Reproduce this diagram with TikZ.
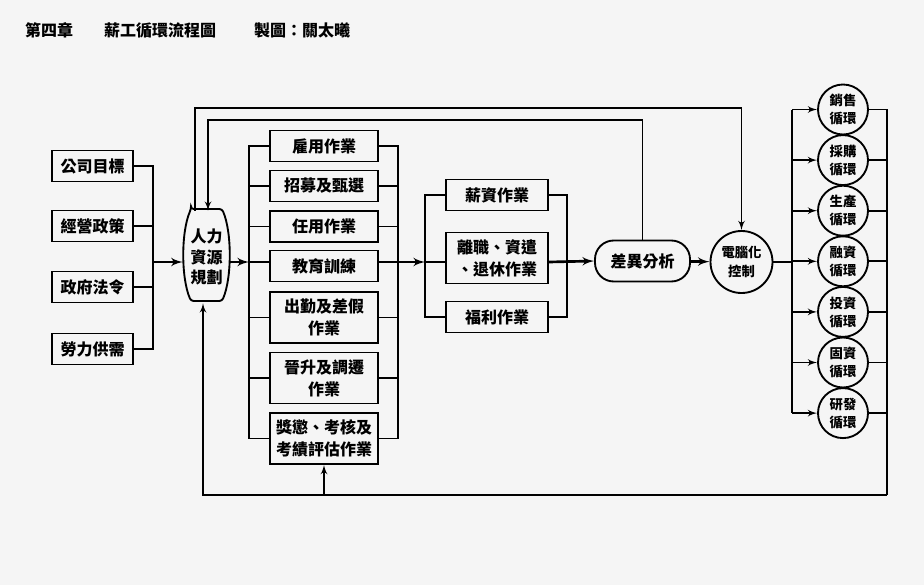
\documentclass[tikz,border=0pt]{standalone}
\usepackage{fontspec}
\setmainfont{Noto Sans CJK TC}
\usepackage{tikz}
\usetikzlibrary{arrows}
\usetikzlibrary{positioning}
\usetikzlibrary{calc}
\tikzstyle{line} = [draw, line width=1.4pt, -latex']

\begin{document}
\begin{tikzpicture}[x=0.75pt, y=-0.75pt,
				every node/.style={font=\bfseries},
				every text node part/.style={align=center},
				source/.style={draw, rectangle, line width=1.4pt, inner sep=0pt, minimum width=60.75pt, minimum height=23.25pt, font=\fontsize{12pt}{16.5pt}\selectfont\bfseries},
				task/.style={source, minimum width=81pt},
				pay/.style={source, minimum width=76.5pt},
				cycle/.style={draw, circle, line width=1.4pt, inner sep=0pt, minimum size=37.5pt, font=\fontsize{10pt}{13.5pt}\selectfont\bfseries},
				wire/.style={draw, line width=1.4pt},
				flow/.style={line, line width=2pt}]
				\fill[black!4] (0,0) rectangle (924,585);
				\useasboundingbox (0,0) rectangle (924,585);
				
				\node[font=\fontsize{12pt}{14pt}\selectfont\bfseries](chapter) at (49,30) {第四章};
				\node[font=\fontsize{12pt}{14pt}\selectfont\bfseries](title) at (160,30) {薪工循環流程圖};
				\node[font=\fontsize{12pt}{14pt}\selectfont\bfseries](author) at (302,30) {製圖：關太曦};
				
				\node[source](goal) at (92.5,166) {公司目標};
				\node[source](policy) at (92.5,226) {經營政策};
				\node[source](law) at (92.5,287) {政府法令};
				\node[source](labor) at (92.5,349) {勞力供需};
				
				\node[inner sep=0pt, minimum width=35.25pt, minimum height=69pt, font=\fontsize{12pt}{15.5pt}\selectfont\bfseries](plan) at (206.5,257) {人力\\資源\\規劃};
				\draw[line width=1.4pt, rounded corners=2pt] (191,209) -- (222,209) .. controls (232,232) and (232,278) .. (222,301) -- (191,301) .. controls (181,278) and (181,232) .. cycle;
				
				\node[task](hire) at (324,146) {雇用作業};
				\node[task](recruit) at (324,186) {招募及甄選};
				\node[task](appoint) at (324,226.5) {任用作業};
				\node[task](train) at (324,266) {教育訓練};
				\node[task, minimum height=38.25pt](attend) at (324,317.5) {出勤及差假\\作業};
				\node[task, minimum height=38.25pt](promote) at (324,378) {晉升及調遷\\作業};
				\node[task, minimum height=38.25pt](reward) at (324,438.5) {獎懲、考核及\\考績評估作業};
				
				\node[pay](salary) at (497,195) {薪資作業};
				\node[pay, minimum height=38.25pt](leave) at (497,258) {離職、資遣\\、退休作業};
				\node[pay](welfare) at (497,317) {福利作業};
				
				\node[draw, line width=1.4pt, rounded corners=14pt, inner sep=0pt, minimum width=71.25pt, minimum height=30.75pt, font=\fontsize{12pt}{16pt}\selectfont\bfseries](diff) at (642.5,261) {差異分析};
				\node[draw, circle, line width=1.4pt, inner sep=0pt, minimum size=46.5pt, font=\fontsize{10pt}{14pt}\selectfont\bfseries](ctrl) at (741.5,262) {電腦化\\控制};
				
				\foreach \name/\label [count=\i from 0] in {sales/銷售, purchase/採購, produce/生產, finance/融資, invest/投資, asset/固資, research/研發}
					\node[cycle](\name) at (843,109.5+50.6*\i) {\label\\循環};
				
				\coordinate (inmid) at (153,262);
				\coordinate (taskin) at (249,262);
				\coordinate (taskout) at (398,262);
				\coordinate (payin) at (425,262);
				\coordinate (payout) at (567,262);
				\coordinate (cycbus) at (792,262);
				\coordinate (loopR) at (887,495);
				\coordinate (loopL) at (203,495);
				\coordinate (topA) at (195,108);
				\coordinate (topB) at (208,120);
				
				\draw[wire] (goal.east) -| (inmid) |- (labor.east);
				\draw[wire] (policy.east) -- (policy.east -| inmid);
				\draw[wire] (law.east) -- (law.east -| inmid);
				\draw[flow] (inmid) -- (plan.west |- inmid);
				
				\draw[flow] (plan.east |- taskin) -- (taskin);
				\draw[wire] (hire.west) -| (taskin) |- (reward.west);
				\draw[wire] (hire.east) -| (taskout) |- (reward.east);
				\foreach \n in {recruit, appoint, attend, promote}{
					\draw[wire] (\n.west) -- (\n.west -| taskin);
					\draw[wire] (\n.east) -- (\n.east -| taskout);
				}
				\draw[wire] (taskin) -- (train.west |- taskin);
				\draw[flow] (train.east |- taskout) -- (payin);
				
				\draw[wire] (salary.west) -| (payin) |- (welfare.west);
				\draw[wire] (salary.east) -| (payout) |- (welfare.east);
				\draw[wire] (payin) -- (leave.west |- payin);
				\draw[flow] (leave.east |- payout) -- (diff.west);
				
				\draw[flow] (diff) -- (ctrl);
				\draw[wire] (ctrl.east) -- (cycbus);
				\draw[wire] (sales.west -| cycbus) -- (research.west -| cycbus);
				\foreach \n in {sales, purchase, produce, finance, invest, asset, research}
					\draw[flow, line width=1.4pt] (\n.west -| cycbus) -- (\n.west);
				
				\draw[wire] (sales.east) -| (loopR);
				\foreach \n in {purchase, produce, finance, invest, asset, research}
					\draw[wire] (\n.east) -- (\n.east -| loopR);
				\draw[line] (loopR) -- (loopL) -- (plan.south -| loopL);
				\draw[line] (reward.south |- loopL) -- (reward.south);
				
				\draw[line] (plan.north -| topA) -- (topA) -| (ctrl.north);
				\draw[line] (diff.north) |- (topB) -- (plan.north -| topB);
			\end{tikzpicture}
\end{document}
